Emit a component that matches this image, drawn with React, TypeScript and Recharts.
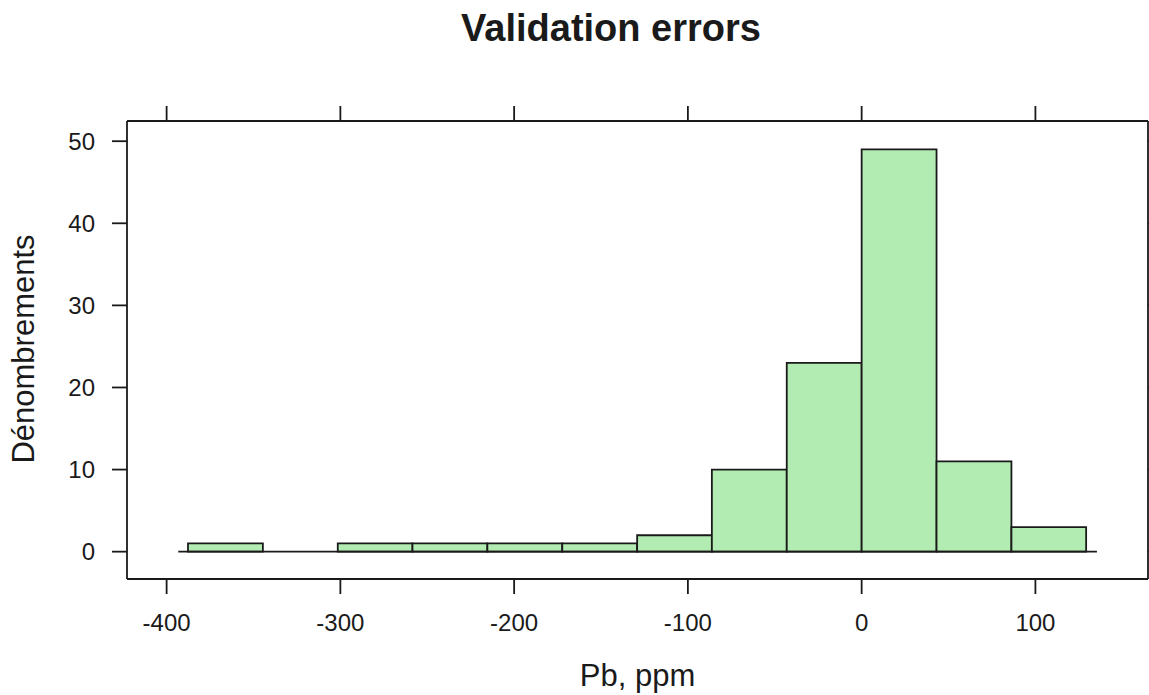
import { ComposedChart, Line, XAxis, YAxis, ReferenceArea, ReferenceLine } from "recharts";

const binEdges = [-387.7, -344.6, -301.5, -258.5, -215.4, -172.3, -129.2, -86.2, -43.1, 0, 43.1, 86.2, 129.2];
const binCounts = [1, 0, 1, 1, 1, 1, 2, 10, 23, 49, 11, 3];
const xTicks = [-400, -300, -200, -100, 0, 100];
const yTicks = [0, 10, 20, 30, 40, 50];
const baselineRange = [-393.3, 135.4];

const FONT = "'Liberation Sans', Arial, sans-serif";
const INK = "#1a1a1a";
const BAR_FILL = "#b3ecb3";
const LW = 1.8;

const xDomain = [-422.8, 164.8];
const yDomain = [-3.33, 52.46];

const data = binCounts.map((count, i) => ({
  mid: (binEdges[i] + binEdges[i + 1]) / 2,
  count,
}));

// tick marks only, no labels (lattice draws unlabelled ticks on top/right)
const NoLabel = () => <g />;

export default function App() {
  return (
    <div style={{ position: "absolute", left: 0, top: 0, width: 1149, height: 695, background: "#fff" }}>
      <div
        style={{
          position: "absolute",
          left: 0,
          width: 1222,
          top: 9,
          textAlign: "center",
          fontFamily: FONT,
          fontWeight: "bold",
          fontSize: 38,
          lineHeight: "38px",
          color: INK,
        }}
      >
        Validation errors
      </div>
      <ComposedChart width={1149} height={695} data={data} margin={{ top: 91, right: 0, bottom: 0, left: 0 }}>
        <XAxis
          dataKey="mid"
          type="number"
          domain={xDomain}
          allowDataOverflow
          ticks={xTicks}
          interval={0}
          height={116}
          tickSize={15}
          tickMargin={20}
          stroke={INK}
          strokeWidth={LW}
          tick={{ fill: INK, fontSize: 24, fontFamily: FONT }}
          label={{
            content: ({ viewBox }: any) => (
              <text
                x={viewBox.x + viewBox.width / 2}
                y={686}
                textAnchor="middle"
                fill={INK}
                fontSize={31}
                fontFamily={FONT}
              >
                Pb, ppm
              </text>
            ),
          }}
        />
        <XAxis
          xAxisId="top"
          dataKey="mid"
          type="number"
          orientation="top"
          domain={xDomain}
          allowDataOverflow
          ticks={xTicks}
          interval={0}
          height={30}
          tickSize={15}
          tick={NoLabel}
          stroke={INK}
          strokeWidth={LW}
        />
        <YAxis
          type="number"
          domain={yDomain}
          allowDataOverflow
          ticks={yTicks}
          interval={0}
          width={127}
          tickSize={15}
          tickMargin={17}
          stroke={INK}
          strokeWidth={LW}
          tick={{ fill: INK, fontSize: 24, fontFamily: FONT }}
          label={{
            content: ({ viewBox }: any) => {
              const cy = viewBox.y + viewBox.height / 2 - 1;
              return (
                <text
                  x={34}
                  y={cy}
                  transform={`rotate(-90, 34, ${cy})`}
                  textAnchor="middle"
                  fill={INK}
                  fontSize={31}
                  fontFamily={FONT}
                >
                  Dénombrements
                </text>
              );
            },
          }}
        />
        <YAxis
          yAxisId="right"
          orientation="right"
          type="number"
          domain={yDomain}
          allowDataOverflow
          ticks={yTicks}
          interval={0}
          width={1}
          tickSize={15}
          tick={NoLabel}
          stroke={INK}
          strokeWidth={LW}
        />
        <ReferenceLine
          segment={[
            { x: baselineRange[0], y: 0 },
            { x: baselineRange[1], y: 0 },
          ]}
          stroke={INK}
          strokeWidth={LW}
        />
        {binCounts.map((count, i) =>
          count > 0 ? (
            <ReferenceArea
              key={i}
              x1={binEdges[i]}
              x2={binEdges[i + 1]}
              y1={0}
              y2={count}
              fill={BAR_FILL}
              fillOpacity={1}
              stroke={INK}
              strokeWidth={LW}
              ifOverflow="visible"
            />
          ) : null
        )}
        <Line dataKey="count" stroke="none" dot={false} activeDot={false} isAnimationActive={false} />
      </ComposedChart>
    </div>
  );
}
